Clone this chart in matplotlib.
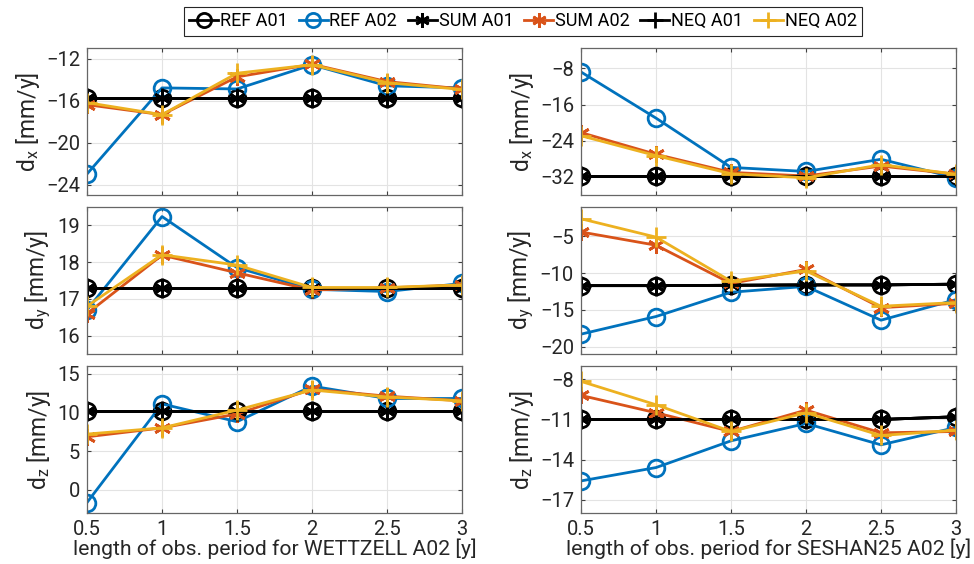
import numpy as np
import matplotlib
matplotlib.use('Agg')
import matplotlib.pyplot as plt

plt.rcParams['font.family'] = ['Roboto', 'DejaVu Sans']
plt.rcParams['mathtext.default'] = 'regular'

# observation period lengths [y]
periods = [0.5, 1, 1.5, 2, 2.5, 3]

# WETTZELL A02 (left column)
wz_dx_ref1 = [-15.8, -15.8, -15.8, -15.8, -15.8, -15.8]
wz_dx_ref2 = [-23.0, -14.8, -14.9, -12.6, -14.6, -14.8]
wz_dx_sum2 = [-16.4, -17.35, -13.75, -12.55, -14.2, -14.9]
wz_dx_neq2 = [-16.2, -17.35, -13.4, -12.6, -14.3, -14.95]

wz_dy_ref1 = [17.3, 17.3, 17.3, 17.3, 17.3, 17.3]
wz_dy_ref2 = [16.7, 19.24, 17.85, 17.26, 17.2, 17.42]
wz_dy_sum2 = [16.6, 18.19, 17.71, 17.24, 17.3, 17.38]
wz_dy_neq2 = [16.8, 18.2, 17.92, 17.31, 17.31, 17.38]

wz_dz_ref1 = [10.2, 10.2, 10.2, 10.2, 10.2, 10.2]
wz_dz_ref2 = [-1.65, 11.1, 8.8, 13.4, 11.8, 11.8]
wz_dz_sum2 = [6.85, 8.0, 9.8, 13.0, 12.1, 11.5]
wz_dz_neq2 = [7.2, 8.0, 10.3, 12.9, 12.0, 11.5]

# SESHAN25 A02 (right column)
sh_dx_ref1 = [-31.8, -31.8, -31.8, -31.8, -31.8, -31.8]
sh_dx_ref2 = [-8.8, -19.0, -29.9, -30.8, -28.1, -32.2]
sh_dx_sum2 = [-22.2, -27.0, -31.0, -31.8, -29.6, -31.4]
sh_dx_neq2 = [-22.9, -27.3, -31.3, -32.2, -29.3, -31.4]

sh_dy_ref1 = [-11.7, -11.7, -11.65, -11.6, -11.6, -11.5]
sh_dy_ref2 = [-18.3, -15.9, -12.6, -11.8, -16.4, -13.6]
sh_dy_sum2 = [-4.4, -6.2, -11.4, -9.5, -14.7, -14.1]
sh_dy_neq2 = [-2.6, -5.1, -11.1, -9.7, -14.5, -14.0]

sh_dz_ref1 = [-11.0, -11.0, -11.0, -11.0, -11.0, -10.8]
sh_dz_ref2 = [-15.6, -14.6, -12.6, -11.3, -12.9, -11.6]
sh_dz_sum2 = [-9.2, -10.5, -11.9, -10.3, -12.0, -11.9]
sh_dz_neq2 = [-8.15, -9.9, -11.9, -10.5, -12.2, -11.8]

ylabels = ['d$_x$ [mm/y]', 'd$_y$ [mm/y]', 'd$_z$ [mm/y]']
xlabels = ['length of obs. period for WETTZELL A02 [y]',
           'length of obs. period for SESHAN25 A02 [y]']

left_data = [(wz_dx_ref1, wz_dx_ref2, wz_dx_sum2, wz_dx_neq2),
             (wz_dy_ref1, wz_dy_ref2, wz_dy_sum2, wz_dy_neq2),
             (wz_dz_ref1, wz_dz_ref2, wz_dz_sum2, wz_dz_neq2)]
right_data = [(sh_dx_ref1, sh_dx_ref2, sh_dx_sum2, sh_dx_neq2),
              (sh_dy_ref1, sh_dy_ref2, sh_dy_sum2, sh_dy_neq2),
              (sh_dz_ref1, sh_dz_ref2, sh_dz_sum2, sh_dz_neq2)]

left_ylim = [(-25, -11), (15.5, 19.5), (-3, 16)]
left_ticks = [[-24, -20, -16, -12], [16, 17, 18, 19], [0, 5, 10, 15]]
right_ylim = [(-36, -3.5), (-21, -1), (-18, -7)]
right_ticks = [[-32, -24, -16, -8], [-20, -15, -10, -5], [-17, -14, -11, -8]]

blue = '#0072BD'
orange = '#D95319'
yellow = '#EDB120'
asterisk = (6, 2, 0)

fig = plt.figure(figsize=(9.74, 5.64), dpi=100)

col_left = [87 / 974, 581 / 974]
col_w = 375 / 974
row_bottom = [1 - 195 / 564, 1 - 354 / 564, 1 - 513 / 564]
row_h = 147 / 564

lw = 2
ms = 12
handles = None
for c, (data, ylims, yticks) in enumerate([(left_data, left_ylim, left_ticks),
                                           (right_data, right_ylim, right_ticks)]):
    for r in range(3):
        ax = fig.add_axes([col_left[c], row_bottom[r], col_w, row_h])
        ref1, ref2, sum2, neq2 = data[r]
        h1, = ax.plot(periods, ref1, '-o', color='k', lw=lw, ms=ms, mew=2,
                      mfc='none', label='REF A01')
        h2, = ax.plot(periods, ref2, '-o', color=blue, lw=lw, ms=ms, mew=2,
                      mfc='none', label='REF A02')
        h3, = ax.plot(periods, ref1, '-', marker=asterisk, color='k', lw=lw,
                      ms=ms, mew=2, label='SUM A01')
        h4, = ax.plot(periods, sum2, '-', marker=asterisk, color=orange, lw=lw,
                      ms=ms, mew=2, label='SUM A02')
        h5, = ax.plot(periods, ref1, '-+', color='k', lw=lw, ms=ms + 2, mew=2,
                      label='NEQ A01')
        h6, = ax.plot(periods, neq2, '-+', color=yellow, lw=lw, ms=ms + 2,
                      mew=2, label='NEQ A02')
        handles = [h1, h2, h3, h4, h5, h6]
        ax.set_xlim(0.5, 3)
        ax.set_ylim(*ylims[r])
        ax.set_xticks(periods)
        ax.set_yticks(yticks[r])
        ax.grid(True, color='#e3e3e3', lw=0.8)
        ax.set_axisbelow(True)
        ax.tick_params(direction='in', length=3, labelsize=14.5, pad=5,
                       top=True, right=True, colors='#404040',
                       labelcolor='#262626')
        for s in ax.spines.values():
            s.set_color('#666666')
            s.set_linewidth(0.9)
        ax.set_ylabel(ylabels[r], fontsize=16.5, color='#262626', labelpad=3)
        if r == 2:
            ax.set_xticklabels(['0.5', '1', '1.5', '2', '2.5', '3'])
            ax.set_xlabel(xlabels[c], fontsize=15.2, color='#262626',
                          labelpad=0)
        else:
            ax.set_xticklabels([])

leg = fig.legend(handles=handles, loc='center', bbox_to_anchor=(0.537, 0.962),
                 ncol=6, fontsize=13, handlelength=1.6, handletextpad=0.1,
                 columnspacing=0.6, borderpad=0.3, fancybox=False,
                 framealpha=1, edgecolor='#262626', markerscale=0.85)
leg.get_frame().set_linewidth(0.8)

fig.savefig('out.png', dpi=100)
